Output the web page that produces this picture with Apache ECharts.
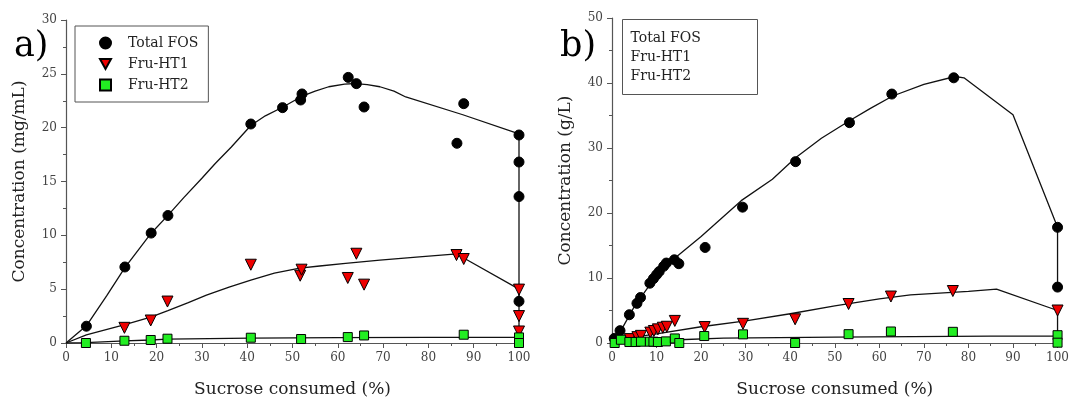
<!DOCTYPE html>
<html>
<head>
<meta charset="utf-8">
<script src="https://cdn.jsdelivr.net/npm/echarts@6/dist/echarts.min.js"></script>
<style>
  html, body { margin: 0; padding: 0; background: #fff; }
  #chart { width: 1072px; height: 403px; }
</style>
</head>
<body>
<div id="chart"></div>
<script>
// ---- Panel a: concentration (mg/mL) vs sucrose consumed (%) ----
const aFosX = [4.5, 13.0, 18.8, 22.5, 40.8, 47.8, 51.8, 52.1, 62.3, 64.1, 65.8, 86.3, 87.8, 100, 100, 100, 100];
const aFosY = [1.56, 7.06, 10.21, 11.84, 20.34, 21.86, 22.57, 23.13, 24.67, 24.09, 21.92, 18.55, 22.23, 19.32, 16.81, 13.6, 3.87];
const aHt1X = [12.9, 18.7, 22.4, 40.8, 51.7, 52.0, 62.2, 64.1, 65.8, 86.2, 87.8, 100, 100, 100];
const aHt1Y = [1.41, 2.09, 3.85, 7.27, 6.25, 6.81, 6.04, 8.29, 5.42, 8.17, 7.8, 4.96, 2.5, 1.07];
const aHt2X = [4.4, 12.9, 18.7, 22.4, 40.8, 51.9, 62.2, 65.8, 87.8, 100, 100];
const aHt2Y = [0, 0.21, 0.28, 0.4, 0.49, 0.37, 0.55, 0.7, 0.77, 0.52, 0];

// fitted trend lines, panel a
const aFosFitX = [0, 4.5, 9, 13, 18.8, 22.5, 26, 30, 33, 36.5, 40.8, 44, 47.8, 52, 55, 58, 61.5, 64, 66.5, 69.3, 72.4, 75, 87.6, 99.2, 100, 100];
const aFosFitY = [0, 1.6, 4.4, 7.0, 10.2, 11.85, 13.5, 15.3, 16.7, 18.2, 20.2, 21.1, 21.9, 22.9, 23.4, 23.8, 24.05, 24.1, 24.0, 23.8, 23.4, 22.85, 21.2, 19.55, 19.4, 3.87];
const aHt1FitX = [0, 4.5, 13, 18.7, 22.5, 27, 31, 36, 40.8, 46, 51.6, 56, 61.7, 69.3, 78, 86.3, 87.8, 100, 100];
const aHt1FitY = [0, 0.75, 1.7, 2.4, 3.0, 3.75, 4.45, 5.2, 5.85, 6.5, 6.95, 7.15, 7.4, 7.7, 8.0, 8.28, 7.9, 5.0, 1.07];
const aHt2FitX = [0, 4.4, 13, 18.7, 22.4, 40.8, 60, 80, 100, 100];
const aHt2FitY = [0, 0.03, 0.2, 0.28, 0.36, 0.45, 0.5, 0.52, 0.52, 0];

// ---- Panel b: concentration (g/L) vs sucrose consumed (%) ----
const bFosX = [0.5, 1.8, 3.9, 5.6, 6.4, 8.5, 9.3, 10.0, 10.6, 11.6, 12.2, 14.0, 15.0, 20.9, 29.3, 41.2, 53.3, 62.8, 76.7, 100, 100];
const bFosY = [0.7, 1.9, 4.35, 6.1, 7.0, 9.2, 9.9, 10.5, 11.0, 11.8, 12.3, 12.8, 12.2, 14.7, 20.9, 27.9, 33.9, 38.3, 40.8, 17.8, 8.6];
const bHt1X = [4.0, 5.7, 6.5, 8.6, 9.4, 10.3, 11.4, 12.3, 14.1, 20.8, 29.4, 41.1, 53.1, 62.6, 76.5, 100];
const bHt1Y = [0.6, 0.9, 1.1, 1.6, 1.85, 2.1, 2.35, 2.5, 3.4, 2.45, 2.95, 3.65, 6.0, 7.15, 8.0, 5.0];
const bHt2X = [0.6, 2.0, 3.9, 5.3, 6.5, 8.5, 9.3, 10.3, 12.1, 14.1, 15.1, 20.7, 29.4, 41.1, 53.1, 62.6, 76.5, 100, 100];
const bHt2Y = [0, 0.5, 0.15, 0.15, 0.2, 0.2, 0.2, 0.15, 0.25, 0.7, 0.0, 1.07, 1.33, 0, 1.36, 1.77, 1.72, 1.2, 0.05];

// fitted trend lines, panel b
const bFosFitX = [0, 2, 5, 10, 14, 20, 29, 36, 41.2, 47, 53.3, 58, 63, 70, 77, 79, 90, 100, 100];
const bFosFitY = [0, 1.9, 5.6, 10.4, 13.0, 16.4, 21.9, 25.2, 28.5, 31.5, 34.2, 36.1, 38.0, 39.8, 41.0, 40.8, 35.1, 17.8, 8.6];
const bHt1FitX = [0, 5, 10, 20, 30, 40, 50, 60, 67, 80, 86.3, 100, 100];
const bHt1FitY = [0.3, 0.9, 1.4, 2.5, 3.4, 4.5, 5.7, 6.8, 7.4, 7.95, 8.3, 5.0, 0.5];
const bHt2FitX = [0, 5, 15, 25, 50, 85, 100, 100];
const bHt2FitY = [0, 0.3, 0.5, 0.75, 0.9, 1.05, 1.05, 0];

const seriesNames = ['Total FOS', 'Fru-HT1', 'Fru-HT2'];
const xTicks = { min: 0, max: 100, interval: 10 };

const FONT = '"DejaVu Serif", "Liberation Serif", serif';
const AXIS_COLOR = '#555';
// downward-pointing triangle used for the Fru-HT1 legend icon
const DOWN_TRIANGLE = 'path://M0,0 L10,0 L5,9 Z';

const pairs = (xs, ys) => xs.map((x, i) => [x, ys[i]]);

function xAxisFor(grid) {
  return {
    gridIndex: grid, type: 'value', min: xTicks.min, max: xTicks.max, interval: xTicks.interval,
    axisLine: { onZero: false, lineStyle: { color: AXIS_COLOR, width: 1.2 } },
    axisTick: { length: 5, lineStyle: { color: AXIS_COLOR } },
    minorTick: { show: true, splitNumber: 2, length: 3, lineStyle: { color: AXIS_COLOR } },
    splitLine: { show: false },
    axisLabel: { fontFamily: FONT, fontSize: 12, color: '#444', margin: 9 },
    name: 'Sucrose consumed (%)', nameLocation: 'middle', nameGap: 38,
    nameTextStyle: { fontFamily: FONT, fontSize: 17, color: '#222' }
  };
}
function yAxisFor(grid, max, interval, title) {
  return {
    gridIndex: grid, type: 'value', min: 0, max: max, interval: interval,
    axisLine: { show: true, onZero: false, lineStyle: { color: AXIS_COLOR, width: 1.2 } },
    axisTick: { show: true, length: 5, lineStyle: { color: AXIS_COLOR } },
    minorTick: { show: true, splitNumber: 2, length: 3, lineStyle: { color: AXIS_COLOR } },
    splitLine: { show: false },
    axisLabel: { fontFamily: FONT, fontSize: 12, color: '#444', margin: 9 },
    name: title, nameLocation: 'middle', nameGap: 38, nameRotate: 90,
    nameTextStyle: { fontFamily: FONT, fontSize: 17, color: '#222' }
  };
}

const markers = [
  { symbol: 'circle', size: 10, rotate: 0, color: '#000', border: '#000' },
  { symbol: 'triangle', size: 11, rotate: 180, color: '#ee0000', border: '#000' },
  { symbol: 'rect', size: 9, rotate: 0, color: '#22ee22', border: '#000' }
];

function scatter(name, idx, xs, ys, m) {
  return {
    name: name, type: 'scatter', xAxisIndex: idx, yAxisIndex: idx,
    symbol: m.symbol, symbolSize: m.size, symbolRotate: m.rotate,
    itemStyle: { color: m.color, borderColor: m.border, borderWidth: 1, opacity: 1 },
    data: pairs(xs, ys), z: 3
  };
}
function fit(idx, xs, ys) {
  return {
    type: 'line', xAxisIndex: idx, yAxisIndex: idx, symbol: 'none', smooth: false,
    lineStyle: { color: '#111', width: 1.3 }, data: pairs(xs, ys), z: 2, silent: true
  };
}

const option = {
  backgroundColor: '#fff',
  animation: false,
  grid: [
    { left: 66, right: 553, top: 20, bottom: 59 },
    { left: 612, right: 9, top: 18, bottom: 60 }
  ],
  title: [
    { text: 'a)', left: 9, top: 24, textStyle: { fontFamily: FONT, fontSize: 35, fontWeight: 'normal', color: '#000' } },
    { text: 'b)', left: 555, top: 24, textStyle: { fontFamily: FONT, fontSize: 35, fontWeight: 'normal', color: '#000' } }
  ],
  legend: [{
    data: [
      { name: seriesNames[0], icon: 'circle' },
      { name: seriesNames[1], icon: DOWN_TRIANGLE },
      { name: seriesNames[2], icon: 'rect' }
    ],
    orient: 'vertical', left: 75, top: 26,
    borderColor: '#555', borderWidth: 1, padding: [10, 10, 10, 24],
    itemGap: 7, itemWidth: 11, itemHeight: 11,
    textStyle: { fontFamily: FONT, fontSize: 14, color: '#222', padding: [0, 0, 0, 12] }
  }],
  graphic: [{
    type: 'group', left: 622, top: 19,
    children: [
      { type: 'rect', shape: { x: 0, y: 0, width: 135, height: 75 }, style: { fill: '#fff', stroke: '#555', lineWidth: 1 } },
      { type: 'text', x: 8, y: 12, style: { text: seriesNames[0], font: '14px ' + FONT, fill: '#222' } },
      { type: 'text', x: 8, y: 31, style: { text: seriesNames[1], font: '14px ' + FONT, fill: '#222' } },
      { type: 'text', x: 8, y: 50, style: { text: seriesNames[2], font: '14px ' + FONT, fill: '#222' } }
    ]
  }],
  xAxis: [xAxisFor(0), xAxisFor(1)],
  yAxis: [
    yAxisFor(0, 30, 5, 'Concentration (mg/mL)'),
    yAxisFor(1, 50, 10, 'Concentration (g/L)')
  ],
  series: [
    fit(0, aFosFitX, aFosFitY), fit(0, aHt1FitX, aHt1FitY), fit(0, aHt2FitX, aHt2FitY),
    scatter(seriesNames[0], 0, aFosX, aFosY, markers[0]),
    scatter(seriesNames[1], 0, aHt1X, aHt1Y, markers[1]),
    scatter(seriesNames[2], 0, aHt2X, aHt2Y, markers[2]),
    fit(1, bFosFitX, bFosFitY), fit(1, bHt1FitX, bHt1FitY), fit(1, bHt2FitX, bHt2FitY),
    scatter(seriesNames[0], 1, bFosX, bFosY, markers[0]),
    scatter(seriesNames[1], 1, bHt1X, bHt1Y, markers[1]),
    scatter(seriesNames[2], 1, bHt2X, bHt2Y, markers[2])
  ]
};

const chart = echarts.init(document.getElementById('chart'), null, { renderer: 'canvas' });
chart.setOption(option);
</script>
</body>
</html>
